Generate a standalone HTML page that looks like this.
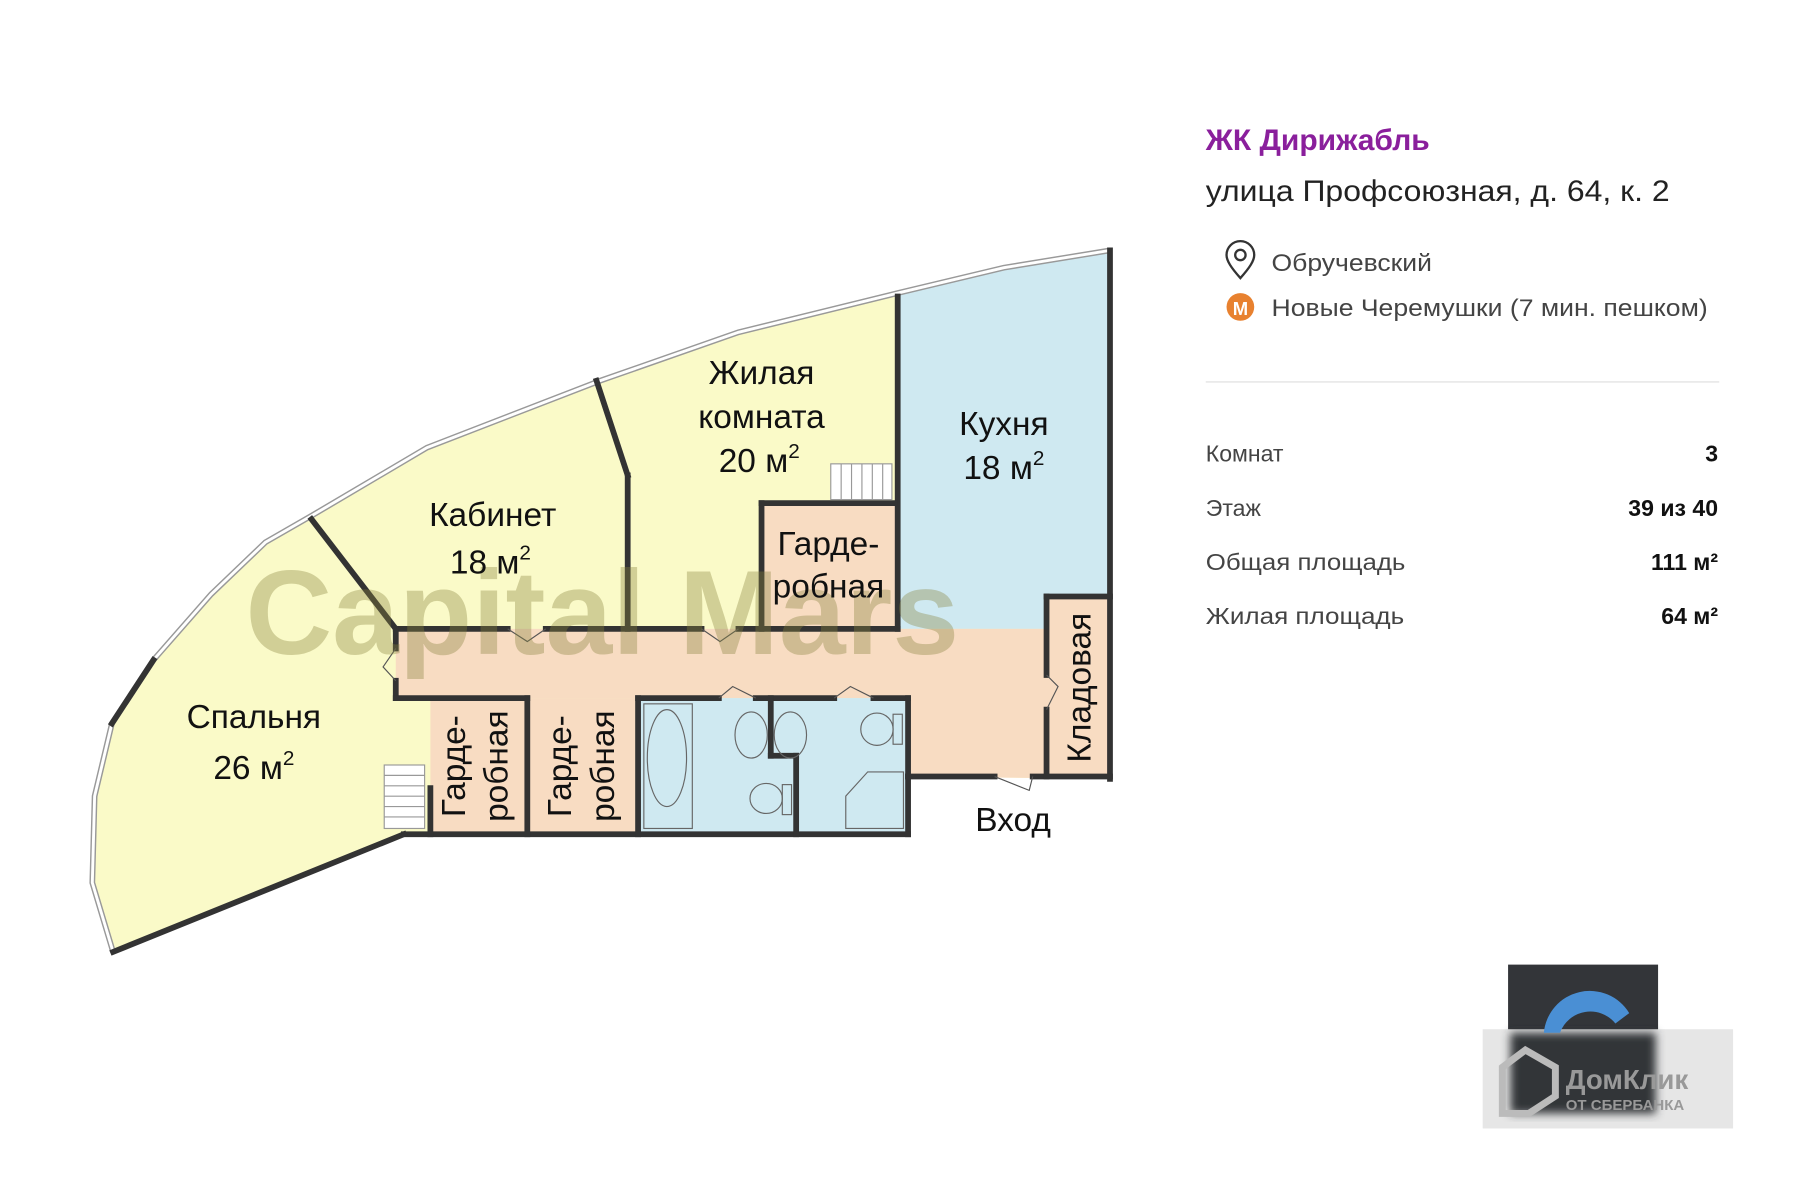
<!DOCTYPE html>
<html><head><meta charset="utf-8"><style>
html,body{margin:0;padding:0;background:#fff;}
svg{display:block;}
text{font-family:"Liberation Sans",sans-serif;}
</style></head><body>
<svg width="1800" height="1200" viewBox="0 0 1560 1040" xmlns="http://www.w3.org/2000/svg">
<defs><filter id="bl"><feGaussianBlur stdDeviation="4"/></filter></defs>
<rect width="1560" height="1040" fill="#fff"/>
<polygon points="98,825 80,765 82,690 97,627 133,572 183,515 230,470 270,447 370,388 520,330 640,288 778,254 870,232 962,217 962,675 787,673 787,723 350,723" fill="#fafac8"/>
<polygon points="778,254 870,232 962,217 962,545 778,545" fill="#cfe9f1"/>
<polygon points="343,545 907,545 907,517 962,517 962,675 787,673 787,605 343,605" fill="#f8dcc2"/>
<rect x="660" y="436" width="116" height="109" fill="#f8dcc2"/>
<rect x="373" y="605" width="180" height="118" fill="#f8dcc2"/>
<rect x="553" y="605" width="234" height="118" fill="#cfe9f1"/>
<polyline points="98,825 80,765 82,690 97,627 133,572 183,515 230,470 270,447 370,388 520,330 640,288 778,254 870,232 962,217" fill="none" stroke="#999" stroke-width="5"/>
<polyline points="98,825 80,765 82,690 97,627 133,572 183,515 230,470 270,447 370,388 520,330 640,288 778,254 870,232 962,217" fill="none" stroke="#fff" stroke-width="2.5"/>
<g stroke="#333" stroke-width="5" fill="none" stroke-linecap="square">
<line x1="962" y1="217" x2="962" y2="675"/>
<line x1="962" y1="673" x2="895" y2="673"/>
<line x1="862" y1="673" x2="787" y2="673"/>
<line x1="787" y1="673" x2="787" y2="723"/>
<line x1="787" y1="723" x2="350" y2="723"/>
<line x1="350" y1="723" x2="98" y2="825"/>
<line x1="133" y1="572" x2="97" y2="627"/>
<line x1="778" y1="257" x2="778" y2="545"/>
<line x1="270" y1="450" x2="343" y2="545"/>
<line x1="517" y1="330" x2="544" y2="412"/>
<line x1="544" y1="412" x2="544" y2="545"/>
<line x1="343" y1="545" x2="440" y2="545"/>
<line x1="473" y1="545" x2="608" y2="545"/>
<line x1="640" y1="545" x2="778" y2="545"/>
<line x1="660" y1="436" x2="775" y2="436"/>
<line x1="660" y1="436" x2="660" y2="545"/>
<line x1="343" y1="545" x2="343" y2="562"/>
<line x1="343" y1="590" x2="343" y2="605"/>
<line x1="343" y1="605" x2="457" y2="605"/>
<line x1="457" y1="605" x2="457" y2="723"/>
<line x1="373" y1="683" x2="373" y2="723"/>
<line x1="553" y1="605" x2="553" y2="723"/>
<line x1="553" y1="605" x2="623" y2="605"/>
<line x1="655" y1="605" x2="723" y2="605"/>
<line x1="757" y1="605" x2="787" y2="605"/>
<line x1="787" y1="605" x2="787" y2="673"/>
<line x1="668" y1="605" x2="668" y2="655"/>
<line x1="668" y1="655" x2="690" y2="655"/>
<line x1="690" y1="655" x2="690" y2="723"/>
<line x1="907" y1="517" x2="962" y2="517"/>
<line x1="907" y1="517" x2="907" y2="585"/>
<line x1="907" y1="615" x2="907" y2="673"/>
</g>
<g stroke="#555" stroke-width="1" fill="none">
<polyline points="440,545 457,556 473,545"/>
<polyline points="608,545 624,556 640,545"/>
<polyline points="343,562 332,578 343,590"/>
<polyline points="623,605 635,595 655,605"/>
<polyline points="723,605 737,595 757,605"/>
<polyline points="907,585 917,595 907,615"/>
<polyline points="862,673 892,685 895,673"/>
</g>
<g stroke="#999" stroke-width="1" fill="#fff">
<rect x="333" y="663" width="35" height="55"/>
<line x1="333" y1="672" x2="368" y2="672"/><line x1="333" y1="681" x2="368" y2="681"/><line x1="333" y1="690" x2="368" y2="690"/><line x1="333" y1="699" x2="368" y2="699"/><line x1="333" y1="708" x2="368" y2="708"/>
<rect x="720" y="402" width="53" height="31"/>
<line x1="729" y1="402" x2="729" y2="433"/><line x1="738" y1="402" x2="738" y2="433"/><line x1="747" y1="402" x2="747" y2="433"/><line x1="756" y1="402" x2="756" y2="433"/><line x1="765" y1="402" x2="765" y2="433"/>
</g>
<g stroke="#666" stroke-width="1" fill="none">
<rect x="558" y="610" width="42" height="108"/>
<ellipse cx="578" cy="657" rx="17" ry="42"/>
<ellipse cx="651" cy="637" rx="14" ry="20"/>
<ellipse cx="685" cy="637" rx="14" ry="20"/>
<ellipse cx="664" cy="692" rx="14" ry="13"/><rect x="678" y="680" width="8" height="26"/>
<ellipse cx="760" cy="632" rx="14" ry="14"/><rect x="774" y="619" width="8" height="26"/>
<polygon points="752,669 783,669 783,718 733,718 733,690"/>
</g>
<text x="522" y="567" text-anchor="middle" font-size="104" font-weight="bold" fill="rgba(135,130,60,0.36)">Capital Mars</text>
<g font-size="29" fill="#111" text-anchor="middle">
<text x="660" y="333">Жилая</text>
<text x="660" y="371">комната</text>
<text x="658" y="409">20 м<tspan font-size="18" dy="-12">2</tspan></text>
<text x="870" y="377">Кухня</text>
<text x="870" y="415">18 м<tspan font-size="18" dy="-12">2</tspan></text>
<text x="427" y="456">Кабинет</text>
<text x="425" y="497">18 м<tspan font-size="18" dy="-12">2</tspan></text>
<text x="718" y="481">Гарде-</text>
<text x="718" y="518">робная</text>
<text x="220" y="631">Спальня</text>
<text x="220" y="675">26 м<tspan font-size="18" dy="-12">2</tspan></text>
<text x="878" y="720">Вход</text>
<text transform="translate(403,664) rotate(-90)">Гарде-</text>
<text transform="translate(440,664) rotate(-90)">робная</text>
<text transform="translate(495,664) rotate(-90)">Гарде-</text>
<text transform="translate(532,664) rotate(-90)">робная</text>
<text transform="translate(945,596) rotate(-90)">Кладовая</text>
</g>
<text x="1045" y="130" font-size="26" font-weight="bold" fill="#8a1f9c">ЖК Дирижабль</text>
<text x="1045" y="174" font-size="26" fill="#222" textLength="402" lengthAdjust="spacingAndGlyphs">улица Профсоюзная, д. 64, к. 2</text>
<path d="M1075,241 C1067,232 1063,226 1063,221 A12,12 0 0 1 1087,221 C1087,226 1083,232 1075,241 Z" fill="none" stroke="#333" stroke-width="2"/>
<circle cx="1075" cy="221" r="4.5" fill="none" stroke="#333" stroke-width="2"/>
<text x="1102" y="235" font-size="21" fill="#444" textLength="139" lengthAdjust="spacingAndGlyphs">Обручевский</text>
<circle cx="1075" cy="266" r="12" fill="#e8812f"/>
<text x="1075" y="273" font-size="16" font-weight="bold" fill="#fff" text-anchor="middle">M</text>
<text x="1102" y="274" font-size="21" fill="#444" textLength="378" lengthAdjust="spacingAndGlyphs">Новые Черемушки (7 мин. пешком)</text>
<line x1="1045" y1="331" x2="1490" y2="331" stroke="#ddd" stroke-width="1"/>
<g font-size="20" fill="#444">
<text x="1045" y="400">Комнат</text>
<text x="1045" y="447">Этаж</text>
<text x="1045" y="494" textLength="173" lengthAdjust="spacingAndGlyphs">Общая площадь</text>
<text x="1045" y="541" textLength="172" lengthAdjust="spacingAndGlyphs">Жилая площадь</text>
</g>
<g font-size="20" font-weight="bold" fill="#111" text-anchor="end">
<text x="1489" y="400">3</text>
<text x="1489" y="447">39 из 40</text>
<text x="1489" y="494">111 м²</text>
<text x="1489" y="541">64 м²</text>
</g>
<rect x="1307" y="836" width="130" height="60" fill="#333539"/>
<rect x="1285" y="892" width="217" height="86" fill="#e6e6e6"/>
<rect x="1309" y="895" width="126" height="70" fill="#333539" filter="url(#bl)"/>
<path d="M1338,895 A40,40 0 0 1 1412,878 L1400,887 A28,28 0 0 0 1352,895 Z" fill="#4a8fd4"/>
<path d="M1302,925 L1322,910 L1348,925 L1348,950 L1325,965 L1302,965 Z" fill="none" stroke="#bbb" stroke-width="6"/>
<text x="1357" y="944" font-size="24" font-weight="bold" fill="#999">ДомКлик</text>
<text x="1357" y="962" font-size="13" font-weight="bold" fill="#999">ОТ СБЕРБАНКА</text>
</svg>
</body></html>
